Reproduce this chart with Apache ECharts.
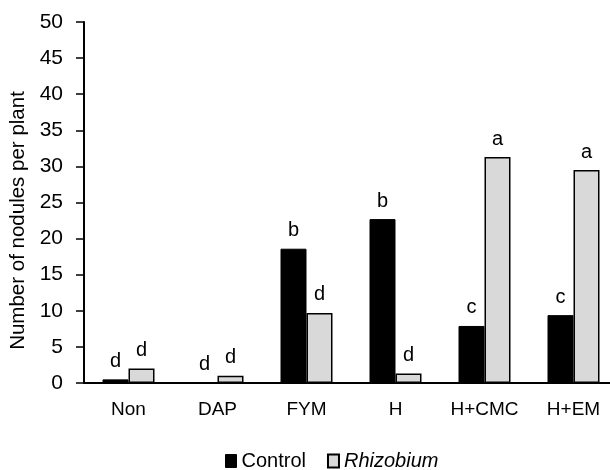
<!DOCTYPE html>
<html>
<head>
<meta charset="utf-8">
<script src="https://cdn.jsdelivr.net/npm/echarts@6/dist/echarts.min.js"></script>
<style>html,body{margin:0;padding:0;background:#fff}#c{width:610px;height:470px}</style>
</head>
<body>
<div id="c"></div>
<script>
var categories = ['Non', 'DAP', 'FYM', 'H', 'H+CMC', 'H+EM'];
var controlValues = [0.5, 0, 18.6, 22.7, 7.9, 9.4];
var rhizobiumValues = [2.0, 1.0, 9.7, 1.3, 31.3, 29.5];
var controlLetters = ['d', 'd', 'b', 'b', 'c', 'c'];
var rhizobiumLetters = ['d', 'd', 'd', 'd', 'a', 'a'];
var yTicks = [0, 5, 10, 15, 20, 25, 30, 35, 40, 45, 50];

var FONT = "'Liberation Sans', Arial, sans-serif";
var chart = echarts.init(document.getElementById('c'));
chart.setOption({
  animation: false,
  grid: { left: 84, top: 22, right: -8, bottom: 87, outerBoundsMode: 'none', containLabel: false },
  legend: {
    left: 220, top: 446,
    icon: 'rect',
    itemWidth: 11, itemHeight: 13, itemGap: 21,
    textStyle: { fontFamily: FONT, fontSize: 20, color: '#000' },
    data: [
      { name: 'Control', itemStyle: { color: '#000', borderColor: '#000', borderWidth: 1 } },
      { name: 'Rhizobium', textStyle: { fontStyle: 'italic' }, itemStyle: { color: '#d9d9d9', borderColor: '#000', borderWidth: 2 } }
    ]
  },
  xAxis: {
    type: 'category',
    data: categories,
    axisLine: { lineStyle: { color: '#000', width: 2 } },
    axisTick: { show: false },
    axisLabel: { interval: 0, fontFamily: FONT, fontSize: 19, color: '#000', margin: 17 }
  },
  yAxis: {
    type: 'value',
    min: yTicks[0], max: yTicks[yTicks.length - 1], interval: 5,
    name: 'Number of nodules per plant',
    nameLocation: 'middle',
    nameGap: 55,
    nameTextStyle: { fontFamily: FONT, fontSize: 20.5, color: '#000', padding: [0, 36, 0, 0] },
    splitLine: { show: false },
    axisLine: { show: true, lineStyle: { color: '#000', width: 2 } },
    axisTick: { show: true, length: 8, lineStyle: { color: '#000', width: 1.5 } },
    axisLabel: { fontFamily: FONT, fontSize: 21, color: '#000', margin: 21 }
  },
  series: [
    {
      name: 'Control', type: 'bar', barWidth: 26, barGap: '0%',
      data: controlValues,
      itemStyle: { color: '#000', borderColor: '#000', borderWidth: 1 },
      label: {
        show: true, position: 'top', distance: 8,
        fontFamily: FONT, fontSize: 20, color: '#000',
        formatter: function (p) { return controlLetters[p.dataIndex]; }
      }
    },
    {
      name: 'Rhizobium', type: 'bar', barWidth: 26,
      data: rhizobiumValues,
      itemStyle: { color: '#d9d9d9', borderColor: '#000', borderWidth: 1.5 },
      label: {
        show: true, position: 'top', distance: 8,
        fontFamily: FONT, fontSize: 20, color: '#000',
        formatter: function (p) { return rhizobiumLetters[p.dataIndex]; }
      }
    }
  ]
});
</script>
</body>
</html>
